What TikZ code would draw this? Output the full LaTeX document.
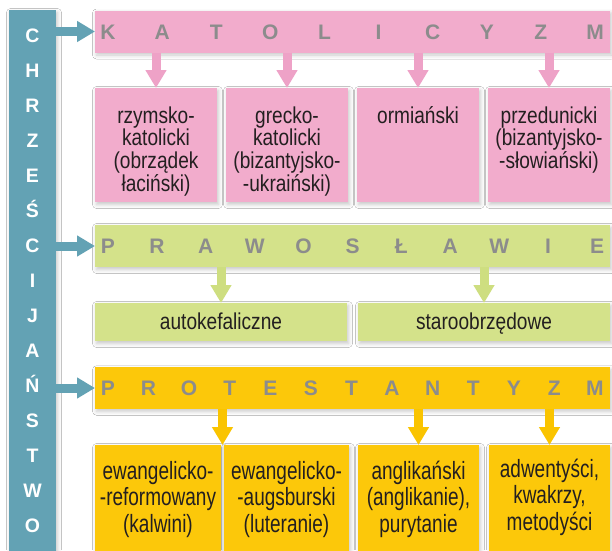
\documentclass[tikz,border=0pt]{standalone}
\usepackage{fontspec}
\setmainfont{Liberation Sans}
\newfontfamily\fpink{Liberation Sans}[FakeStretch=0.83]
\newfontfamily\fprot{Liberation Sans}[FakeStretch=0.76]
\usetikzlibrary{arrows.meta,shadows.blur}
\definecolor{cblue}{RGB}{99,162,180}
\definecolor{cpink}{RGB}{242,172,204}
\definecolor{cpinka}{RGB}{238,162,199}
\definecolor{cgreen}{RGB}{212,226,138}
\definecolor{cgreena}{RGB}{206,222,128}
\definecolor{cyell}{RGB}{252,200,10}
\definecolor{cyella}{RGB}{250,196,0}
\definecolor{cgray}{RGB}{140,140,140}
\definecolor{ctext}{RGB}{35,31,32}
\tikzset{
  box/.style={inner sep=0pt, outer sep=0pt, draw=none,
    blur shadow={shadow xshift=1.5pt, shadow yshift=-2.5pt, shadow blur radius=4pt, shadow opacity=22}},
  hdr/.style={anchor=base, inner sep=0pt, text=cgray, font=\bfseries\fontsize{21}{21}\selectfont},
  vlet/.style={anchor=base, inner sep=0pt, text=white, font=\bfseries\fontsize{19.5}{19.5}\selectfont},
  ptext/.style={anchor=base, inner sep=0pt, text=ctext, font=\fpink\fontsize{23}{22.7}\selectfont},
  rtext/.style={anchor=base, inner sep=0pt, text=ctext, font=\fprot\fontsize{25}{26.5}\selectfont},
  darrow/.style={line width=9pt, -{Triangle[width=20pt,length=18pt]}},
  barrow/.style={darrow, draw=cblue},
}
\begin{document}
\begin{tikzpicture}[x=1pt,y=-1pt]
\useasboundingbox (0,0) rectangle (612,550);
\fill[white] (0,0) rectangle (612,550);

% vertical bar
\node[box, fill=cblue, minimum width=47pt, minimum height=550pt] (chr) at (32.5,285) {};
\foreach \c [count=\i] in {C,H,R,Z,E,Ś,C,I,J,A,Ń,S,T,W,O}
  \node[vlet] (v\i) at ({32.5}, {42+(\i-1)*35.07}) {\c};

% headers
\node[box, fill=cpink, minimum width=515pt, minimum height=42pt] (kat) at (352.5,31.5) {};
\node[box, fill=cgreen, minimum width=515pt, minimum height=42pt] (praw) at (352.5,246) {};
\node[box, fill=cyell, minimum width=515pt, minimum height=41.5pt] (prot) at (352.5,388) {};

\foreach \c [count=\i] in {K,A,T,O,L,I,C,Y,Z,M}
  \node[hdr] (hk\i) at ({108+(\i-1)*54.11}, 39.3) {\c};
\foreach \c [count=\i] in {P,R,A,W,O,S,Ł,A,W,I,E}
  \node[hdr] (hp\i) at ({108+(\i-1)*48.9}, 253.5) {\c};
\foreach \c [count=\i] in {P,R,O,T,E,S,T,A,N,T,Y,Z,M}
  \node[hdr] (hr\i) at ({108+(\i-1)*40.58}, 395.8) {\c};

% blue arrows
\draw[barrow] (chr.east |- kat.west) -- (kat.west);
\draw[barrow] (chr.east |- praw.west) -- (praw.west);
\draw[barrow] (chr.east |- prot.west) -- (prot.west);

% pink sub boxes
\node[box, fill=cpink, minimum width=122pt, minimum height=114pt] (k1) at (156,145) {};
\node[box, fill=cpink, minimum width=122pt, minimum height=114pt] (k2) at (287,145) {};
\node[box, fill=cpink, minimum width=122pt, minimum height=114pt] (k3) at (418,145) {};
\node[box, fill=cpink, minimum width=122pt, minimum height=114pt] (k4) at (549,145) {};
\node[ptext] (k1t) at (156,123) {\parbox[t]{118pt}{\centering rzymsko-\\katolicki\\(obrządek\\łaciński)}};
\node[ptext] (k2t) at (287,123) {\parbox[t]{118pt}{\centering grecko-\\katolicki\\(bizantyjsko-\\-ukraiński)}};
\node[ptext] (k3t) at (418,123) {\parbox[t]{118pt}{\centering ormiański}};
\node[ptext] (k4t) at (549,123) {\parbox[t]{118pt}{\centering przedunicki\\(bizantyjsko-\\-słowiański)}};
\foreach \n in {k1,k2,k3,k4}
  \draw[darrow, draw=cpinka] (kat.south -| \n.north) -- (\n.north);

% green sub boxes
\node[box, fill=cgreen, minimum width=252pt, minimum height=38pt] (p1) at (221,322) {};
\node[box, fill=cgreen, minimum width=252pt, minimum height=38pt] (p2) at (484,322) {};
\node[ptext] (p1t) at (221,329) {autokefaliczne};
\node[ptext] (p2t) at (484,329) {staroobrzędowe};
\foreach \n in {p1,p2}
  \draw[darrow, draw=cgreena] (praw.south -| \n.north) -- (\n.north);

% yellow sub boxes
\node[box, fill=cyell, minimum width=126pt, minimum height=112pt] (r1) at (158,501) {};
\node[box, fill=cyell, minimum width=125pt, minimum height=112pt] (r2) at (286.5,501) {};
\node[box, fill=cyell, minimum width=121pt, minimum height=112pt] (r3) at (418.5,501) {};
\node[box, fill=cyell, minimum width=121pt, minimum height=112pt] (r4) at (549.5,501) {};
\node[rtext] (r1t) at (158,479) {\parbox[t]{124pt}{\centering ewangelicko-\\-reformowany\\(kalwini)}};
\node[rtext] (r2t) at (286.5,479) {\parbox[t]{124pt}{\centering ewangelicko-\\-augsburski\\(luteranie)}};
\node[rtext] (r3t) at (418.5,479) {\parbox[t]{120pt}{\centering anglikański\\(anglikanie),\\purytanie}};
\node[rtext] (r4t) at (549.5,477) {\parbox[t]{120pt}{\centering adwentyści,\\kwakrzy,\\metodyści}};
\coordinate (seam) at (222.5,445);
\draw[darrow, draw=cyella] (prot.south -| seam) -- (seam);
\foreach \n in {r3,r4}
  \draw[darrow, draw=cyella] (prot.south -| \n.north) -- (\n.north);
\end{tikzpicture}
\end{document}
